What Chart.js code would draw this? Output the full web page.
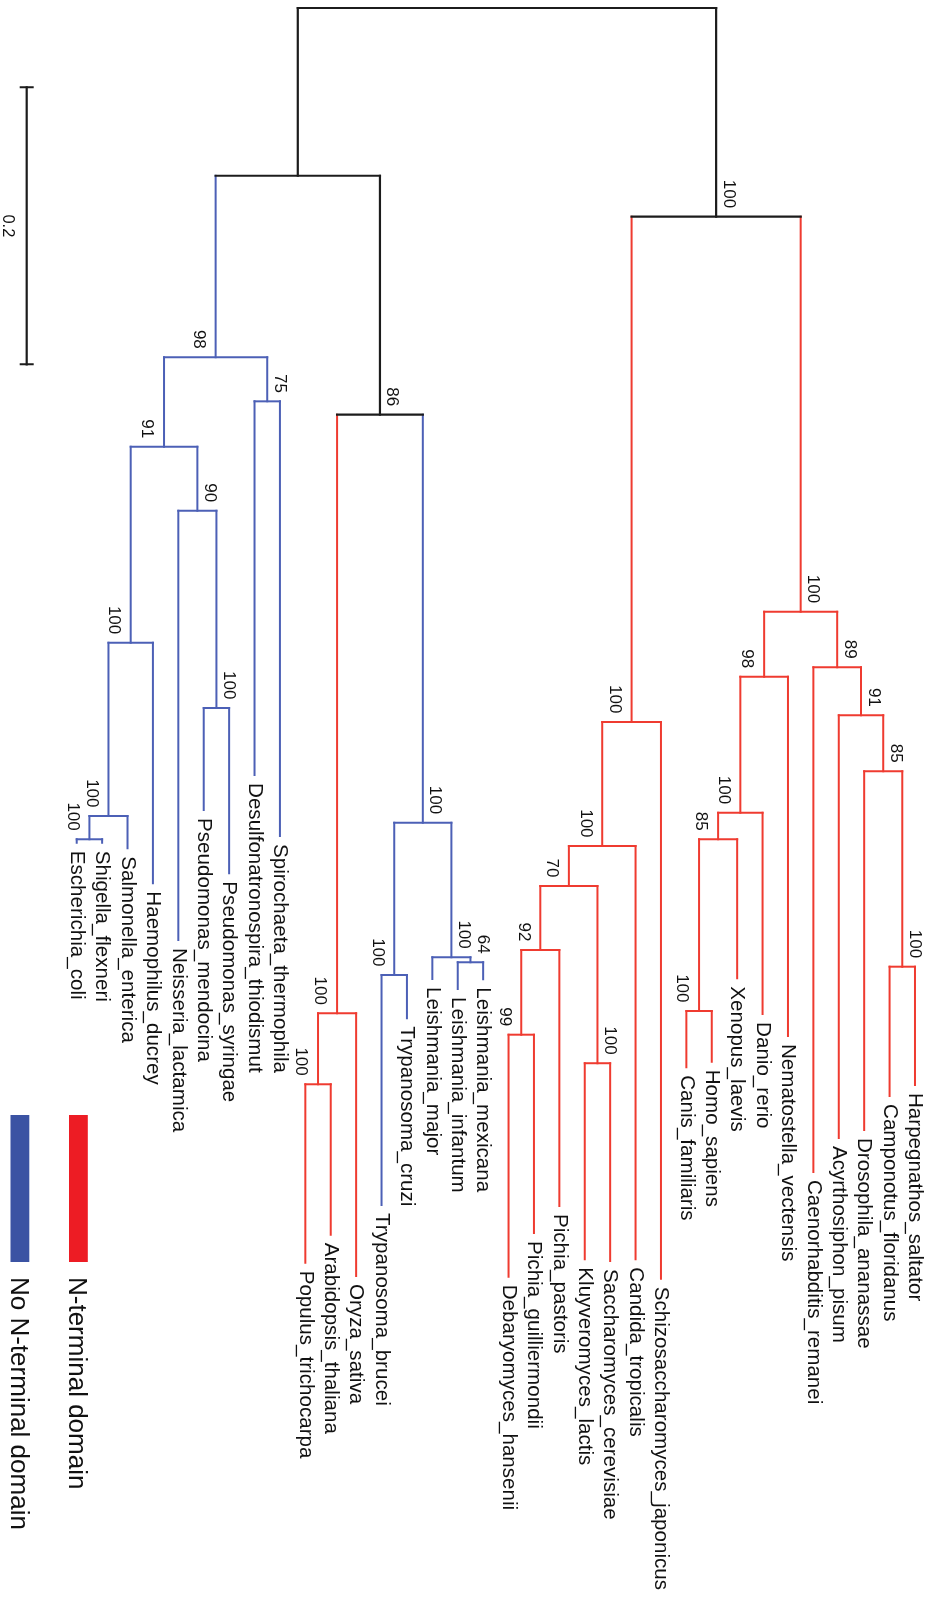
<!DOCTYPE html>
<html><head><meta charset="utf-8">
<style>html,body{margin:0;padding:0;background:#fff;}canvas{display:block;}</style>
<script src="https://cdn.jsdelivr.net/npm/chart.js@4.4.1/dist/chart.umd.min.js"></script>
</head><body>
<canvas id="c" width="932" height="1606"></canvas>
<script>
// ---------- DATA ----------
// Leaves in display order (left to right)
const leafNames = [
  'Escherichia_coli','Shigella_flexneri','Salmonella_enterica','Haemophilus_ducrey',
  'Neisseria_lactamica','Pseudomonas_mendocina','Pseudomonas_syringae',
  'Desulfonatronospira_thiodismut','Spirochaeta_thermophila',
  'Populus_trichocarpa','Arabidopsis_thaliana','Oryza_sativa',
  'Trypanosoma_brucei','Trypanosoma_cruzi','Leishmania_major','Leishmania_infantum','Leishmania_mexicana',
  'Debaryomyces_hansenii','Pichia_guilliermondii','Pichia_pastoris','Kluyveromyces_lactis',
  'Saccharomyces_cerevisiae','Candida_tropicalis','Schizosaccharomyces_japonicus',
  'Canis_familiaris','Homo_sapiens','Xenopus_laevis','Danio_rerio','Nematostella_vectensis',
  'Caenorhabditis_remanei','Acyrthosiphon_pisum','Drosophila_ananassae',
  'Camponotus_floridanus','Harpegnathos_saltator'
];
// distance of each leaf tip from the root (substitutions/site)
const leafDepth = [
  0.6027,0.6027,0.6067,0.6320,
  0.6729,0.5791,0.6248,
  0.5538,0.5978,
  0.9059,0.8857,0.9155,
  0.8643,0.7295,0.7011,0.7083,0.7013,
  0.9160,0.8845,0.8650,0.9035,
  0.9047,0.9035,0.9175,
  0.7648,0.7608,0.7006,0.7264,0.7422,
  0.8404,0.8159,0.8101,
  0.7856,0.7776
];
// internal nodes
const nodeIds = ['root','bact','n98','n91','nHaem','nSal','nEsch','n90','nPse','n75',
  'n86','nPlant','nPlant2','nTrypAll','nTryp','nLeish','n64',
  'euk','nFungi','nF2','n70','n92','n99','nSac',
  'nAnim','n98a','nVert','n85v','nHC','n89','n91a','n85a','nHym'];
const nodeChildren = [
  ['bact','euk'], ['n98','n86'], ['n91','n75'], ['nHaem','n90'],
  ['nSal','Haemophilus_ducrey'], ['nEsch','Salmonella_enterica'], ['Escherichia_coli','Shigella_flexneri'],
  ['Neisseria_lactamica','nPse'], ['Pseudomonas_mendocina','Pseudomonas_syringae'],
  ['Desulfonatronospira_thiodismut','Spirochaeta_thermophila'],
  ['nPlant','nTrypAll'], ['nPlant2','Oryza_sativa'], ['Populus_trichocarpa','Arabidopsis_thaliana'],
  ['nTryp','nLeish'], ['Trypanosoma_brucei','Trypanosoma_cruzi'], ['Leishmania_major','n64'],
  ['Leishmania_infantum','Leishmania_mexicana'],
  ['nFungi','nAnim'], ['nF2','Schizosaccharomyces_japonicus'], ['n70','Candida_tropicalis'],
  ['n92','nSac'], ['n99','Pichia_pastoris'], ['Debaryomyces_hansenii','Pichia_guilliermondii'],
  ['Kluyveromyces_lactis','Saccharomyces_cerevisiae'],
  ['n98a','n89'], ['nVert','Nematostella_vectensis'], ['n85v','Danio_rerio'], ['nHC','Xenopus_laevis'],
  ['Canis_familiaris','Homo_sapiens'], ['Caenorhabditis_remanei','n91a'], ['Acyrthosiphon_pisum','n85a'],
  ['Drosophila_ananassae','nHym'], ['Camponotus_floridanus','Harpegnathos_saltator']
];
const nodeDepth = [
  0, 0.1211, 0.2522, 0.3168, 0.4583, 0.5834, 0.6002, 0.3630, 0.5054, 0.2840,
  0.2936, 0.7259, 0.7771, 0.5882, 0.6982, 0.6854, 0.6890,
  0.1507, 0.5155, 0.6051, 0.6339, 0.6801, 0.7413, 0.7619,
  0.4359, 0.4828, 0.5810, 0.6002, 0.7242, 0.4760, 0.5107, 0.5511, 0.6922
];
const nodeSupport = [
  null, null, 98, 91, 100, 100, 100, 90, 100, 75,
  86, 100, 100, 100, 100, 100, 64,
  100, 100, 100, 70, 92, 99, 100,
  100, 98, 100, 85, 100, 89, 91, 85, 100
];
// domain state of the branch leading to each node: 'N' = N-terminal domain, 'noN' = none, '' = undetermined
const nodeDomain = [
  '', '', 'noN','noN','noN','noN','noN','noN','noN','noN',
  '', 'N','N','noN','noN','noN','noN',
  '', 'N','N','N','N','N','N',
  'N','N','N','N','N','N','N','N','N'
];
const scaleBarLength = 0.2;
const scaleBarLabel = '0.2';
const legendLabels = ['N-terminal domain', 'No N-terminal domain'];
const legendDomains = ['N', 'noN'];

// ---------- STYLE / LAYOUT ----------
const lineColors = { N: '#ef3b30', noN: '#4c60b6', '': '#1c1c1c' };
const barColors = { N: '#ed1c24', noN: '#3b53a3' };
const FONT = '"Liberation Sans", Arial, Helvetica, sans-serif';

// ---------- TREE LAYOUT ----------
const info = {};
leafNames.forEach((n, i) => { info[n] = { x: i, depth: leafDepth[i], leaf: true }; });
nodeIds.forEach((id, i) => {
  info[id] = { depth: nodeDepth[i], support: nodeSupport[i], domain: nodeDomain[i], children: nodeChildren[i] };
});
nodeIds.forEach(id => info[id].children.forEach((c, k) => {
  info[c].parent = id;
  info[c].side = (k === 0) ? 'left' : 'right';
}));
function xOf(id) {
  const p = info[id];
  if (p.x !== undefined) return p.x;
  const xs = p.children.map(xOf);
  p.x = (xs[0] + xs[xs.length - 1]) / 2;
  return p.x;
}
nodeIds.forEach(xOf);
leafNames.forEach(n => { info[n].domain = info[info[n].parent].domain; });

const datasets = [];
function seg(pts, dom) {
  datasets.push({
    data: pts, showLine: true, pointRadius: 0, pointHoverRadius: 0,
    borderColor: lineColors[dom], borderWidth: dom === '' ? 2.2 : 2,
    borderCapStyle: 'square', fill: false, tension: 0
  });
}
nodeIds.forEach(id => {
  const p = info[id];
  const first = info[p.children[0]], last = info[p.children[p.children.length - 1]];
  seg([{ x: first.x, y: p.depth }, { x: last.x, y: p.depth }], p.domain);
});
[...nodeIds, ...leafNames].forEach(id => {
  const p = info[id];
  if (!p.parent) return;
  seg([{ x: p.x, y: info[p.parent].depth }, { x: p.x, y: p.depth }], p.domain);
});
// scale bar (placed in the left margin)
const sbX = -1.969, sbTop = 0.0573;
seg([{ x: sbX, y: sbTop }, { x: sbX, y: sbTop + scaleBarLength }], '');

const labelPlugin = {
  id: 'treeLabels',
  afterDatasetsDraw(chart) {
    const ctx = chart.ctx, xs = chart.scales.x, ys = chart.scales.y;
    ctx.save();
    ctx.fillStyle = '#111';
    // leaf names
    ctx.font = '20.6px ' + FONT;
    leafNames.forEach((n, i) => {
      const px = xs.getPixelForValue(i), py = ys.getPixelForValue(leafDepth[i]);
      ctx.save(); ctx.translate(px, py + 8); ctx.rotate(Math.PI / 2);
      ctx.textAlign = 'left'; ctx.textBaseline = 'middle';
      ctx.fillText(n, 0, 0); ctx.restore();
    });
    // support values
    const fs = 17, capH = 0.716 * fs;
    ctx.font = fs + 'px ' + FONT;
    nodeIds.forEach(id => {
      const p = info[id];
      if (p.support == null) return;
      const px = xs.getPixelForValue(p.x), py = ys.getPixelForValue(p.depth);
      const bx = p.side === 'left' ? px - 9.5 - capH : px + 7.5;
      ctx.save(); ctx.translate(bx, py - 8.5); ctx.rotate(Math.PI / 2);
      ctx.textAlign = 'right'; ctx.textBaseline = 'alphabetic';
      ctx.fillText(String(p.support), 0, 0); ctx.restore();
    });
    // scale bar ticks + label
    const sx = xs.getPixelForValue(sbX);
    const sy0 = ys.getPixelForValue(sbTop), sy1 = ys.getPixelForValue(sbTop + scaleBarLength);
    ctx.strokeStyle = lineColors['']; ctx.lineWidth = 2;
    ctx.beginPath();
    ctx.moveTo(sx - 7, sy0); ctx.lineTo(sx + 7, sy0);
    ctx.moveTo(sx - 7, sy1); ctx.lineTo(sx + 7, sy1);
    ctx.stroke();
    ctx.font = '16.5px ' + FONT;
    ctx.save(); ctx.translate(2.5, (sy0 + sy1) / 2); ctx.rotate(Math.PI / 2);
    ctx.textAlign = 'center'; ctx.textBaseline = 'alphabetic';
    ctx.fillText(scaleBarLabel, 0, 0); ctx.restore();
    // legend
    const legendX = [68.5, 10];
    ctx.font = '26px ' + FONT;
    legendLabels.forEach((lab, i) => {
      ctx.fillStyle = barColors[legendDomains[i]];
      ctx.fillRect(legendX[i] + 0.5, 1115, 18.8, 147);
      ctx.fillStyle = '#111';
      ctx.save(); ctx.translate(legendX[i] + 0.8, 1277); ctx.rotate(Math.PI / 2);
      ctx.textAlign = 'left'; ctx.textBaseline = 'alphabetic';
      ctx.fillText(lab, 0, 0); ctx.restore();
    });
    ctx.restore();
  }
};

new Chart(document.getElementById('c'), {
  type: 'scatter',
  data: { datasets },
  options: {
    responsive: false, animation: false, devicePixelRatio: 1,
    layout: { padding: 0 },
    events: [],
    plugins: { legend: { display: false }, tooltip: { enabled: false } },
    scales: {
      x: { type: 'linear', min: -3.02, max: 33.67, display: false },
      y: { type: 'linear', min: -0.00578, max: 1.1538, reverse: true, display: false }
    }
  },
  plugins: [labelPlugin]
});
</script>
</body></html>
